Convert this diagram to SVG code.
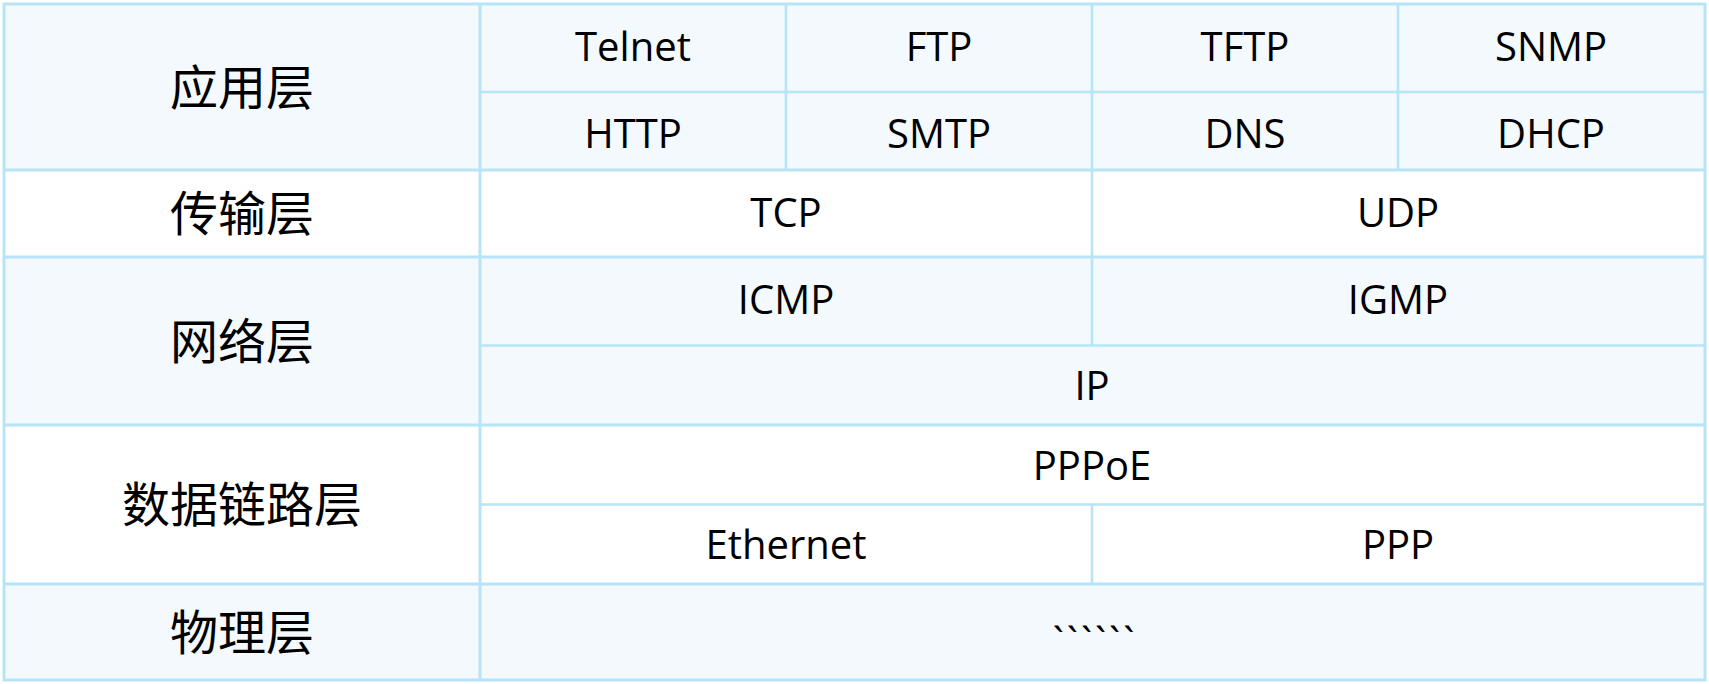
<svg xmlns="http://www.w3.org/2000/svg" width="1709" height="684" viewBox="0 0 1709 684">
<style>
.bg{fill:#ffffff}
.lt{fill:#f3f9fd}
.ln{stroke:#b7e4f6;fill:none}
.major{stroke-width:3}
.minor{stroke-width:2.6}
.en{font-family:"Open Sans","Noto Sans",sans-serif;font-size:40px;fill:#000;text-anchor:middle}
.zh{font-family:"Noto Sans CJK SC",sans-serif;font-size:48px;fill:#000;text-anchor:middle}
.tick{letter-spacing:3px}
</style>
<rect class="bg" x="0" y="0" width="1709" height="684"/>
<g id="fills">
<rect class="lt" x="4" y="4" width="1701" height="166"/>
<rect class="lt" x="4" y="257" width="1701" height="168"/>
<rect class="lt" x="4" y="584" width="1701" height="96"/>
</g>
<g id="grid">
<line class="ln minor" x1="480" y1="92" x2="1705" y2="92"/>
<line class="ln minor" x1="786" y1="4" x2="786" y2="170"/>
<line class="ln minor" x1="1092" y1="4" x2="1092" y2="345.5"/>
<line class="ln minor" x1="1398" y1="4" x2="1398" y2="170"/>
<line class="ln minor" x1="480" y1="345.5" x2="1705" y2="345.5"/>
<line class="ln minor" x1="480" y1="504.5" x2="1705" y2="504.5"/>
<line class="ln minor" x1="1092" y1="504.5" x2="1092" y2="584"/>
<line class="ln major" x1="4" y1="170" x2="1705" y2="170"/>
<line class="ln major" x1="4" y1="257" x2="1705" y2="257"/>
<line class="ln major" x1="4" y1="425" x2="1705" y2="425"/>
<line class="ln major" x1="4" y1="584" x2="1705" y2="584"/>
<line class="ln major" x1="480" y1="4" x2="480" y2="680"/>
<rect class="ln major" x="4" y="4" width="1701" height="676"/>
</g>
<g id="layer-app">
<text class="zh" x="242" y="105">应用层</text>
<text class="en" x="633" y="61">Telnet</text>
<text class="en" x="939" y="61">FTP</text>
<text class="en" x="1245" y="61">TFTP</text>
<text class="en" x="1551" y="61">SNMP</text>
<text class="en" x="633" y="148">HTTP</text>
<text class="en" x="939" y="148">SMTP</text>
<text class="en" x="1245" y="148">DNS</text>
<text class="en" x="1551" y="148">DHCP</text>
</g>
<g id="layer-transport">
<text class="zh" x="242" y="231">传输层</text>
<text class="en" x="786" y="227">TCP</text>
<text class="en" x="1398" y="227">UDP</text>
</g>
<g id="layer-network">
<text class="zh" x="242" y="359">网络层</text>
<text class="en" x="786" y="314">ICMP</text>
<text class="en" x="1398" y="314">IGMP</text>
<text class="en" x="1092" y="400">IP</text>
</g>
<g id="layer-datalink">
<text class="zh" x="242" y="522">数据链路层</text>
<text class="en" x="1092" y="480">PPPoE</text>
<text class="en" x="786" y="559">Ethernet</text>
<text class="en" x="1398" y="559">PPP</text>
</g>
<g id="layer-physical">
<text class="zh" x="242" y="650">物理层</text>
<text class="en tick" x="1095" y="656">``````</text>
</g>
</svg>
